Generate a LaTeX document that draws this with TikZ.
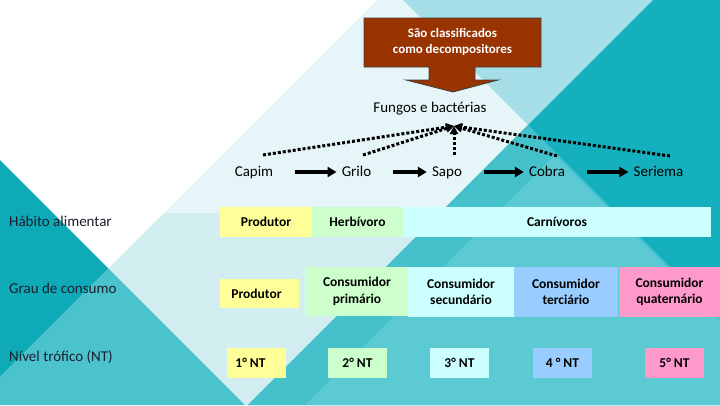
\documentclass[tikz,border=0pt]{standalone}
\usepackage{fontspec}
\setmainfont{Carlito}
\usetikzlibrary{arrows.meta, positioning, calc}

\definecolor{lightA}{HTML}{E6F5F7}
\definecolor{lightB}{HTML}{D3EEF1}
\definecolor{blueT}{HTML}{A5DEE6}
\definecolor{tealD}{HTML}{0EAAB7}
\definecolor{tealM}{HTML}{4AC3CC}
\definecolor{tealR}{HTML}{15B0BD}
\definecolor{tealP}{HTML}{44C1CB}
\definecolor{tealQ}{HTML}{5BCAD2}
\definecolor{labelink}{HTML}{1B1F2E}
\definecolor{decaybrown}{HTML}{993300}
\definecolor{prodyellow}{HTML}{FFFF99}
\definecolor{herbgreen}{HTML}{CCFFCC}
\definecolor{carncyan}{HTML}{CCFFFF}
\definecolor{tercblue}{HTML}{99CCFF}
\definecolor{quatpink}{HTML}{FF99CC}

\begin{document}
\begin{tikzpicture}[
    x=1pt, y=-1pt,
    organism/.style = {font=\fontsize{15}{18}\selectfont, inner sep=0pt, anchor=base},
    rowlabel/.style = {font=\fontsize{15}{18}\selectfont, text=labelink, inner sep=0pt, anchor=base west},
    cell/.style     = {inner sep=0pt, align=center, text=black,
                       font=\bfseries\fontsize{13.5}{16.5}\selectfont},
    feed/.style     = {-{Triangle[length=9pt, width=10pt]}, line width=3.2pt,
                       shorten <=22pt, shorten >=5pt},
    decay/.style    = {-{Triangle[length=8pt, width=8pt]}, line width=3pt,
                       dash pattern=on 3pt off 2pt},
]

%% ---- Background facets ----
\useasboundingbox (0,0) rectangle (720,405);
\fill[white]  (0,0) rectangle (720,405);
\fill[lightA] (377,0) -- (653,0) -- (248,405) -- (245,405) -- (108.5,268.5) -- cycle;
\fill[lightB] (164,213) -- (440,213) -- (248,405) -- (245,405) -- (108.5,268.5) -- cycle;
\fill[blueT]  (403,0) -- (653,0) -- (528,125) -- cycle;
\fill[tealD]  (0,160) -- (108.5,268.5) -- (0,377) -- cycle;
\fill[tealM]  (0,377) -- (108.5,268.5) -- (245,405) -- (0,405) -- cycle;
\fill[tealR]  (653,0) -- (720,0) -- (720,405) -- (248,405) -- cycle;
\fill[tealP]  (528,125) -- (720,317) -- (720,405) -- (248,405) -- cycle;
\fill[tealQ]  (555,155) -- (720,320) -- (720,405) -- (305,405) -- cycle;

%% ---- Decomposers callout ----
\draw[fill=decaybrown, draw=black!75, line width=0.8pt]
    (364,18) -- (541,18) -- (541,67) -- (475,67) -- (475,80) -- (498,80)
    -- (453,92) -- (406,80) -- (429,80) -- (429,67) -- (364,67) -- cycle;
\node[align=center, text=white, inner sep=0pt,
      font=\bfseries\fontsize{13}{16}\selectfont] (decomp) at (452.5,42)
    {São classificados\\como decompositores};

\node[organism] (fungos) at (430,112) {Fungos e bactérias};
\coordinate (meet) at (454,126);

%% ---- Food chain ----
\node[organism] (capim)   at (254,176)   {Capim};
\node[organism] (grilo)   at (356.5,176) {Grilo};
\node[organism] (sapo)    at (447,176)   {Sapo};
\node[organism] (cobra)   at (547,176)   {Cobra};
\node[organism] (seriema) at (658.5,176) {Seriema};

\foreach \a/\b in {capim/grilo, grilo/sapo, sapo/cobra, cobra/seriema}{
    \draw[feed] ([yshift=4pt]\a.base east) -- ([yshift=4pt]\b.base west);
}

% dotted lines to the decomposers
\draw[decay] ([shift={(9,-21)}]capim.base)     -- (meet);
\draw[decay] ([shift={(6.5,-21)}]grilo.base)   -- (meet);
\draw[decay] ([shift={(7,-21)}]sapo.base)      -- (meet);
\draw[decay] ([shift={(10,-20)}]cobra.base)    -- (meet);
\draw[decay] ([shift={(11.5,-20)}]seriema.base) -- (meet);

%% ---- Row labels ----
\node[rowlabel] (habito) at (9,226) {Hábito alimentar};
\node[rowlabel] (grau)   at (9,293) {Grau de consumo};
\node[rowlabel] (nivel)  at (9,361) {Nível trófico (NT)};

%% ---- Feeding habit ----
\node[cell, fill=prodyellow, minimum width=92pt,  minimum height=30pt] (prod1) at (266,222)   {Produtor};
\node[cell, fill=herbgreen,  minimum width=91pt,  minimum height=30pt] (herb)  at (357.5,222) {Herbívoro};
\node[cell, fill=carncyan,   minimum width=308pt, minimum height=30pt] (carn)  at (557,222)   {Carnívoros};

%% ---- Consumption degree ----
\node[cell, fill=prodyellow, minimum width=79pt,  minimum height=29pt] (prod2) at (259.5,293.5) {Produtor\hspace{6pt}};
\node[cell, fill=herbgreen,  minimum width=104pt, minimum height=49pt] (cons1) at (357,291.5)   {Consumidor\\primário};
\node[cell, fill=carncyan,   minimum width=106pt, minimum height=50pt] (cons2) at (461,292)     {Consumidor\\secundário};
\node[cell, fill=tercblue,   minimum width=104pt, minimum height=50pt] (cons3) at (566,292)     {Consumidor\\terciário};
\node[cell, fill=quatpink,   minimum width=101pt, minimum height=50pt] (cons4) at (669.5,292)   {Consumidor\\quaternário};

%% ---- Trophic level ----
\foreach \n/\x/\c/\t in {1/256.5/prodyellow/1° NT\hspace{12pt}, 2/357.5/herbgreen/2° NT,
                         3/459.5/carncyan/3° NT, 4/562.5/tercblue/4 ° NT,
                         5/674.5/quatpink/5° NT}{
    \node[cell, fill=\c, minimum width=59pt, minimum height=30pt] (nt\n) at (\x,362.5) {\t};
}

\end{tikzpicture}
\end{document}
